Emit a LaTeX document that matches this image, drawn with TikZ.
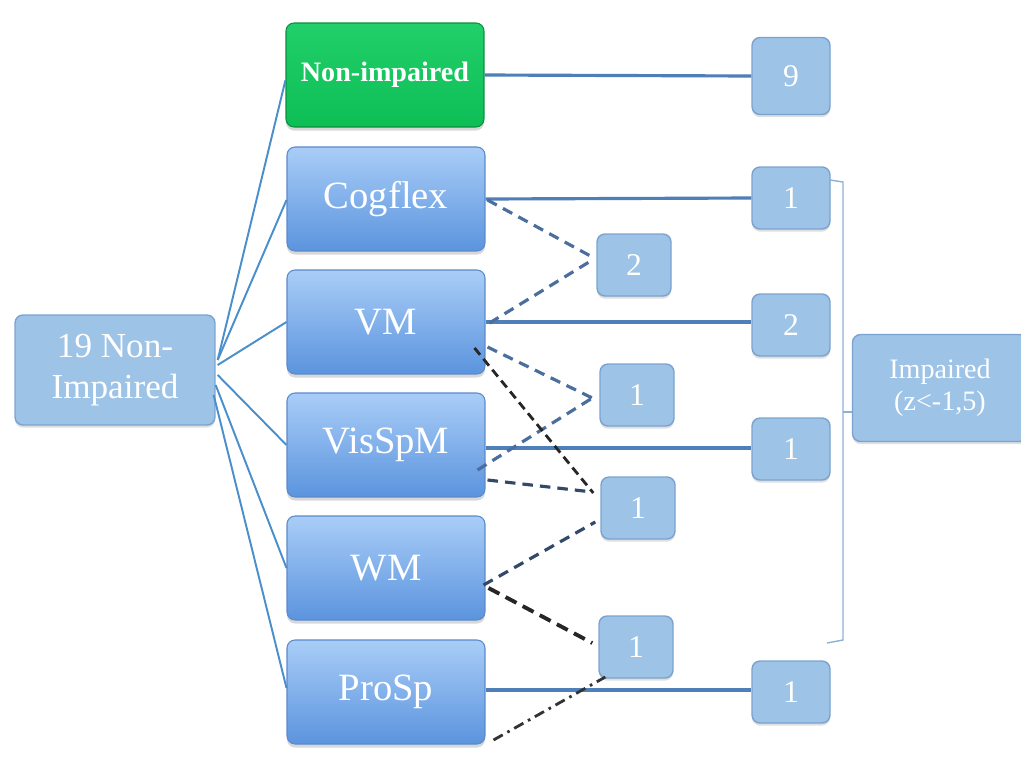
\documentclass[tikz,border=0pt]{standalone}
\usepackage{fontspec}
\setmainfont{Liberation Serif}
\usetikzlibrary{calc,shadows}
\definecolor{colTop}{HTML}{A9CDF7}
\definecolor{colBot}{HTML}{5B94DE}
\definecolor{colEdge}{HTML}{5A8ACB}
\definecolor{smallFill}{HTML}{9DC3E6}
\definecolor{smallEdge}{HTML}{7CA3D0}
\definecolor{greenFill}{HTML}{0DBE55}
\definecolor{greenTop}{HTML}{22CF6A}
\definecolor{greenEdge}{HTML}{0A8F3F}
\definecolor{lineBlue}{HTML}{4F7FB8}
\definecolor{fanBlue}{HTML}{4A8FCB}
\definecolor{dashBlue}{HTML}{4A6E9E}
\definecolor{dashDark}{HTML}{33496A}
\definecolor{brBlue}{HTML}{8FB0D6}
\tikzset{
  colbox/.style={draw=colEdge, line width=0.6pt, rounded corners=0.16cm,
    top color=colTop, bottom color=colBot, minimum width=3.96cm, minimum height=2.08cm,
    text=white, font=\fontsize{22}{24}\selectfont,
    drop shadow={shadow xshift=0pt, shadow yshift=-2pt, opacity=0.3, fill=gray}},
  greenbox/.style={colbox, draw=greenEdge, top color=greenTop, bottom color=greenFill,
    font=\fontsize{16}{18}\selectfont\bfseries},
  smallbox/.style={draw=smallEdge, line width=0.8pt, rounded corners=0.16cm, fill=smallFill,
    minimum width=1.56cm, minimum height=1.24cm, text=white, font=\fontsize{18}{20}\selectfont,
    drop shadow={shadow xshift=0pt, shadow yshift=-1.5pt, opacity=0.25, fill=gray}},
  midbox/.style={smallbox, minimum width=1.48cm},
  rootbox/.style={smallbox, minimum width=4.0cm, minimum height=2.2cm,
    font=\fontsize{20}{23}\selectfont, align=center},
  impbox/.style={smallbox, minimum width=3.5cm, minimum height=2.14cm,
    font=\fontsize{16}{18}\selectfont, align=center},
  fan/.style={draw=fanBlue, line width=1.1pt},
  solidlink/.style={draw=lineBlue, line width=1.8pt},
  bluedash/.style={draw=dashBlue, line width=1.8pt, dash pattern=on 6pt off 4pt},
  darkdash/.style={draw=dashDark, line width=1.8pt, dash pattern=on 6pt off 4pt},
  blackdash/.style={draw=black!85, line width=1.6pt, dash pattern=on 5pt off 3pt},
  blackdashthick/.style={draw=black!85, line width=2.2pt, dash pattern=on 7pt off 4pt},
  dashdotlink/.style={draw=black!80, line width=1.6pt, dash pattern=on 6pt off 3pt on 1.5pt off 3pt},
  bracketline/.style={draw=brBlue, line width=0.8pt},
}
\begin{document}
\begin{tikzpicture}[x=0.02cm,y=-0.02cm]
\useasboundingbox (0,0) rectangle (1021,758);
\fill[white] (0,0) rectangle (1021,758);

% nodes
\node[rootbox] (root) at (115,370) {19 Non-\\Impaired};
\node[greenbox] (ni) at (385,75) {Non-impaired};
\node[colbox] (cog) at (386,199) {Cogflex};
\node[colbox] (vm) at (386,322) {VM};
\node[colbox] (vis) at (386,445) {VisSpM};
\node[colbox] (wm) at (386,568) {WM};
\node[colbox] (pro) at (386,692) {ProSp};

\node[smallbox, minimum height=1.54cm] (r9) at (791,76) {9};
\node[smallbox] (r1a) at (791,198) {1};
\node[smallbox] (r2) at (791,325) {2};
\node[smallbox] (r1b) at (791,449) {1};
\node[smallbox] (r1c) at (791,692) {1};

\node[midbox] (m2) at (634,265) {2};
\node[midbox] (m1a) at (637,395) {1};
\node[midbox] (m1b) at (638,508) {1};
\node[midbox] (m1c) at (636,647) {1};

\node[impbox] (imp) at (940,388) {Impaired\\(z<-1,5)};

% fan from root
\draw[fan] ($(root.east)+(2,-10)$) -- ($(ni.west)+(0,5)$);
\draw[fan] ($(root.east)+(2,-10)$) -- ($(cog.west)+(0,1)$);
\draw[fan] ($(root.east)+(2,-5)$) -- (vm.west);
\draw[fan] ($(root.east)+(2,5)$) -- (vis.west);
\draw[fan] ($(root.east)+(0,15)$) -- (wm.west);
\draw[fan] ($(root.east)+(-2,25)$) -- ($(pro.west)+(0,-4)$);

% solid links
\draw[solidlink] (ni.east) -- (r9.west);
\draw[solidlink] (cog.east) -- (r1a.west);
\draw[solidlink] (vm.east) -- ($(r2.west)+(0,-3)$);
\draw[solidlink] ($(vis.east)+(0,3)$) -- ($(r1b.west)+(0,-1)$);
\draw[solidlink] ($(pro.east)+(0,-2)$) -- ($(r1c.west)+(0,-2)$);

% dashed links
\draw[bluedash] ($(cog.east)+(2,1)$) -- ($(m2.west)+(-4,-8)$);
\draw[bluedash] ($(vm.east)+(4,1)$) -- ($(m2.west)+(-4,-5)$);
\draw[bluedash] ($(vm.east)+(2,25)$) -- ($(m1a.west)+(-7,3)$);
\draw[bluedash] ($(vis.east)+(-8,25)$) -- ($(m1a.west)+(-7,3)$);
\draw[blackdash] ($(vm.east)+(-11,26)$) -- ($(m1b.west)+(-7,-15)$);
\draw[darkdash] ($(vis.east)+(2,35)$) -- ($(m1b.west)+(-8,-16)$);
\draw[darkdash] ($(wm.east)+(-2,17)$) -- ($(m1b.west)+(-5,14)$);
\draw[blackdashthick] ($(wm.east)+(3,20)$) -- ($(m1c.west)+(-6,-4)$);
\draw[dashdotlink] ($(pro.east)+(8,48)$) -- ($(m1c.west)+(7,30)$);

% bracket
\coordinate (btA) at (830,180);
\coordinate (btB) at (843,182);
\coordinate (bbB) at (843,640);
\coordinate (bbA) at (827,643);
\coordinate (bmid) at (843,412);
\draw[bracketline] (btA) -- (btB) -- (bbB) -- (bbA);
\draw[bracketline] (bmid) -- (imp.west |- bmid);
\end{tikzpicture}
\end{document}
